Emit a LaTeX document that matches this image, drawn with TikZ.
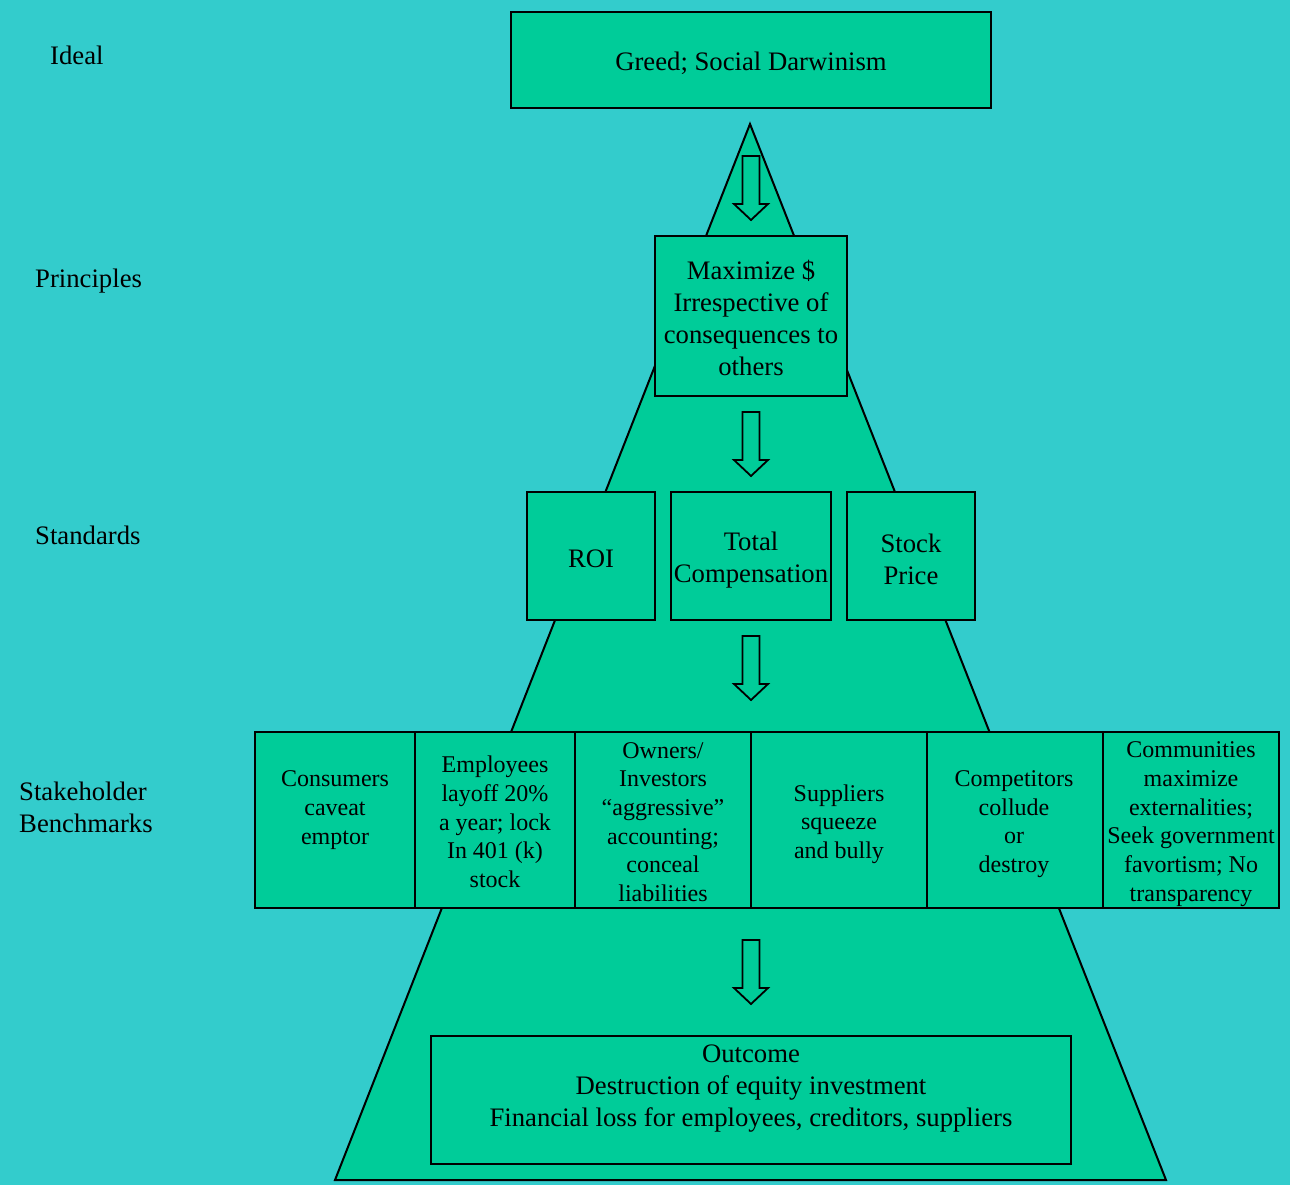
\documentclass[tikz,border=0pt]{standalone}
\usepackage{fontspec}
\setmainfont{Liberation Serif}
\definecolor{bgcyan}{HTML}{33CCCC}
\definecolor{boxgreen}{HTML}{00CC99}
\newcommand{\bigtext}{\fontsize{26.7}{32}\selectfont}
\newcommand{\smalltext}{\fontsize{24}{28.7}\selectfont}
\begin{document}
\begin{tikzpicture}[x=1pt,y=-1pt,
  outline/.style={draw=black,line width=2pt,fill=boxgreen},
  box/.style={outline,rectangle,inner sep=0pt,outer sep=0pt,anchor=north west},
  label/.style={font=\bigtext,align=center,inner sep=0pt},
  cell/.style={font=\smalltext,align=center,inner sep=0pt},
  side/.style={font=\bigtext,align=left,inner sep=0pt,anchor=west},
  blockarrow/.pic={\draw[outline,line width=1.8pt,line join=miter]
     (-8.5,0) -- (8.5,0) -- (8.5,48) -- (17,48) -- (0,64) -- (-17,48) -- (-8.5,48) -- cycle;}
]
\useasboundingbox (0,0) rectangle (1290,1185);
\fill[bgcyan] (0,0) rectangle (1290,1185);

% pyramid
\coordinate (apex) at (750,124);
\coordinate (baseL) at (335,1180);
\coordinate (baseR) at (1166,1180);
\draw[outline,line join=miter] (apex) -- (baseR) -- (baseL) -- cycle;

% ideal
\node[box,minimum width=480pt,minimum height=96pt] (ideal) at (511,12) {};
\node[label] (idealtxt) at (751,63) {Greed; Social Darwinism};

% principles
\node[box,minimum width=192pt,minimum height=160pt] (principle) at (655,236) {};
\node[label] (principletxt) at (751,318) {Maximize \$\\Irrespective of\\consequences to\\others};

% standards
\node[box,minimum width=128pt,minimum height=128pt] (roi) at (527,492) {};
\node[box,minimum width=160pt,minimum height=128pt] (comp) at (671,492) {};
\node[box,minimum width=128pt,minimum height=128pt] (stock) at (847,492) {};
\node[label] (roitxt) at (591,559) {ROI};
\node[label] (comptxt) at (751,560) {Total\\Compensation};
\node[label] (stocktxt) at (911,559) {Stock\\Price};

% stakeholder benchmarks
\node[box,minimum width=160pt,minimum height=176pt] (consumers) at (255,732) {};
\node[box,minimum width=160pt,minimum height=176pt] (employees) at (415,732) {};
\node[box,minimum width=176pt,minimum height=176pt] (owners) at (575,732) {};
\node[box,minimum width=176pt,minimum height=176pt] (suppliers) at (751,732) {};
\node[box,minimum width=176pt,minimum height=176pt] (competitors) at (927,732) {};
\node[box,minimum width=176pt,minimum height=176pt] (communities) at (1103,732) {};
\node[cell] (consumerstxt) at (335,810) {Consumers\\caveat\\emptor};
\node[cell] (employeestxt) at (495,822) {Employees\\layoff 20\%\\a year; lock\\In 401 (k)\\stock};
\node[cell] (ownerstxt) at (663,822) {Owners/\\Investors\\“aggressive”\\accounting;\\conceal\\liabilities};
\node[cell] (supplierstxt) at (839,824) {Suppliers\\squeeze\\and bully};
\node[cell] (competitorstxt) at (1014,824) {Competitors\\collude\\or\\destroy};
\node[cell] (communitiestxt) at (1191,824) {Communities\\maximize\\externalities;\\Seek government\\favortism; No\\transparency};

% outcome
\node[box,minimum width=640pt,minimum height=128pt] (outcome) at (431,1036) {};
\node[label] (outcometxt) at (751,1089) {Outcome\\Destruction of equity investment\\Financial loss for employees, creditors, suppliers};

% arrows between levels
\pic at (751,156) {blockarrow};
\pic at (751,412) {blockarrow};
\pic at (751,636) {blockarrow};
\pic at (751,940) {blockarrow};

% level captions
\node[side] (lvlideal) at (50,55) {Ideal};
\node[side] (lvlprinciples) at (35,281) {Principles};
\node[side] (lvlstandards) at (35,535) {Standards};
\node[side] (lvlstake) at (19,807) {Stakeholder\\Benchmarks};
\end{tikzpicture}
\end{document}
